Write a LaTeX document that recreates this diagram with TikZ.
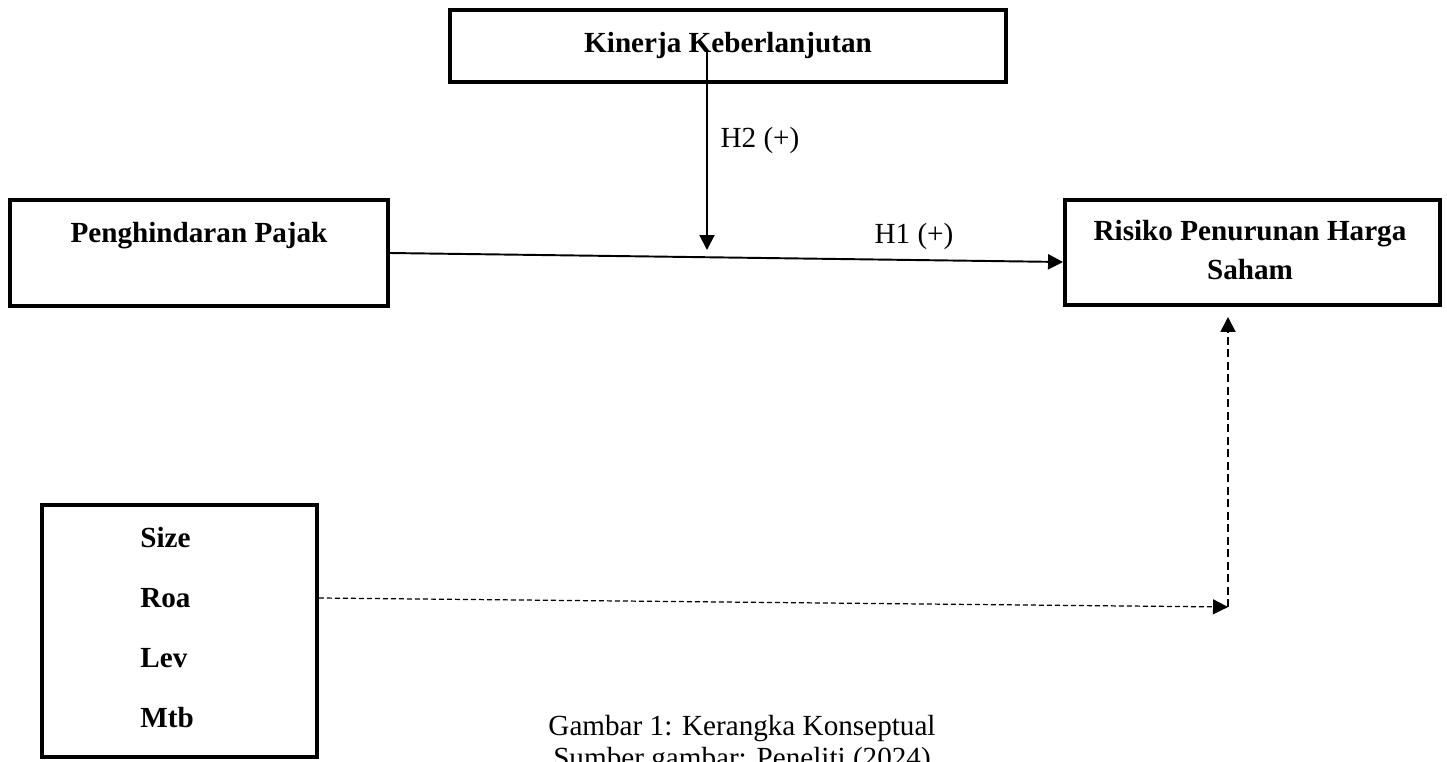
\documentclass[tikz,border=0pt]{standalone}
\usepackage{fontspec}
\setmainfont{Liberation Serif}
\usetikzlibrary{calc,arrows.meta}
\tikzset{every node/.append style={font=\fontsize{16.6}{22}\selectfont}}

\begin{document}
\begin{tikzpicture}[>={Triangle[length=0.3cm,width=0.3cm]}, x=0.02cm, y=-0.02cm,
    box/.style={draw, line width=0.08cm, inner sep=0pt},
    lab/.style={font=\fontsize{16.6}{22.1}\selectfont\bfseries, inner sep=0pt, anchor=base, align=center},
    hyp/.style={inner sep=0pt, anchor=base},
    path/.style={->, line width=1.1pt},
    ctl/.style={->, line width=0.7pt, dash pattern=on 0.1cm off 0.06cm}]
    \useasboundingbox (0,0) rectangle (1447,761);
    % variables
    \node[box, minimum width=11.12cm, minimum height=1.44cm] (kinerja) at (728,46) {};
    \node[lab] (kinerjalab) at (728,52) {Kinerja Keberlanjutan};
    \node[box, minimum width=7.56cm, minimum height=2.12cm] (pajak) at (199,253) {};
    \node[lab] (pajaklab) at (199,242) {Penghindaran Pajak};
    \node[box, minimum width=7.5cm, minimum height=2.1cm] (risiko) at (1252.5,252.5) {};
    \node[lab] (risikolab) at (1250,279) {Risiko Penurunan Harga\\ Saham};
    % controls
    \node[box, minimum width=5.5cm, minimum height=5.04cm] (ctrl) at (179.5,631) {};
    \node[lab, anchor=base west, align=left, font=\fontsize{16.6}{34}\selectfont\bfseries] (ctrllab) at (140,727) {Size\\ Roa\\ Lev\\ Mtb};
    % hypotheses
    \coordinate (h2tip) at (707,250);
    \draw[path] (pajak.east) -- ($(risiko.west)+(0,9.5)$);
    \draw[path] ($(kinerja.center)+(-21,4)$) -- (h2tip);
    \node[hyp] (h1) at (914,243) {H1 (+)};
    \node[hyp] (h2) at (760,147) {H2 (+)};
    % control path
    \coordinate (ctrltip) at (1228,607);
    \draw[ctl] ($(ctrl.east)+(0,-33)$) -- (ctrltip);
    \draw[->, line width=1.1pt, dash pattern=on 0.16cm off 0.09cm] (ctrltip) -- ($(risiko.south -| ctrltip)+(0,10)$);
    % caption
    \node[hyp, align=center, font=\fontsize{16.6}{18.1}\selectfont] (caption) at (742,767) {Gambar 1: Kerangka Konseptual\\ Sumber gambar: Peneliti (2024)};
\end{tikzpicture}
\end{document}
